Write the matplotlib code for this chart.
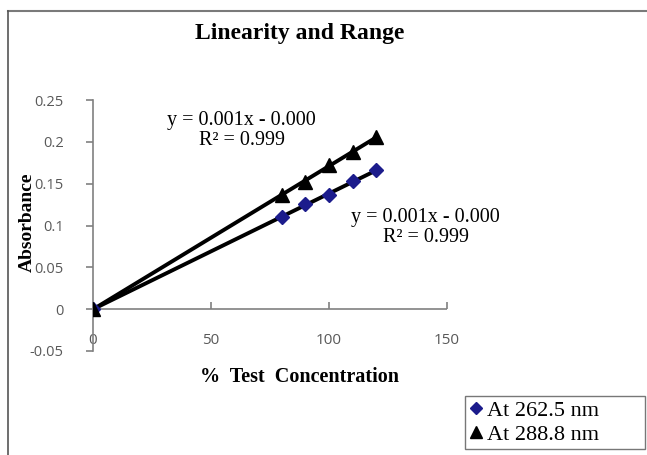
import numpy as np
import matplotlib
matplotlib.use("Agg")
import matplotlib.pyplot as plt
from matplotlib.lines import Line2D

# Data
conc = [0, 80, 90, 100, 110, 120]
abs_262 = [0, 0.110, 0.126, 0.136, 0.153, 0.166]
abs_288 = [0, 0.137, 0.152, 0.172, 0.188, 0.206]
series_labels = ["At 262.5 nm", "At 288.8 nm"]
x_ticks = [0, 50, 100, 150]
y_ticks = [-0.05, 0, 0.05, 0.1, 0.15, 0.2, 0.25]
y_ticklabels = ["-0.05", "0", "0.05", "0.1", "0.15", "0.2", "0.25"]
eq_text = "y = 0.001x - 0.000\nR² = 0.999"

W, H = 647, 455
fig = plt.figure(figsize=(W / 100, H / 100), dpi=100)
fig.patch.set_facecolor("white")

def fx(px):
    return px / W

def fy(py):
    return 1 - py / H

ax = fig.add_axes([fx(93), fy(351), fx(447) - fx(93), fy(100) - fy(351)])
ax.set_xlim(0, 150)
ax.set_ylim(-0.05, 0.25)
for s in ["top", "right", "bottom"]:
    ax.spines[s].set_visible(False)
ax.spines["left"].set_color("#808080")
ax.spines["left"].set_linewidth(1.2)
ax.axhline(0, color="#808080", lw=1.2, zorder=1)

ax.set_yticks(y_ticks)
ax.set_yticklabels(y_ticklabels)
ax.set_xticks(x_ticks)
ax.set_xticklabels([str(t) for t in x_ticks])
ax.tick_params(axis="y", direction="out", length=5, color="#808080", width=1.2,
               labelsize=10.5, labelcolor="#595959", pad=16)
ax.tick_params(axis="x", length=0, labelsize=11, labelcolor="#595959", pad=-13)
for lab in ax.get_xticklabels() + ax.get_yticklabels():
    lab.set_fontfamily("Open Sans")

# upward x tick marks at y = 0 (axis decoration)
sec = ax.secondary_xaxis(location=(0 + 0.05) / 0.30)
sec.set_xticks(x_ticks)
sec.set_xticklabels([])
sec.tick_params(direction="in", length=5, color="#808080", width=1.2)
sec.spines["bottom"].set_visible(False)
sec.spines["top"].set_visible(False)

# trendlines
xs = np.array([0, 120])
for yv in (abs_262, abs_288):
    m, b = np.polyfit(conc, yv, 1)
    ax.plot(xs, m * xs + b, color="black", lw=2.8, zorder=2, solid_capstyle="butt")

ax.plot(conc, abs_262, linestyle="none", marker="D", markersize=7,
        color="#1c1c8c", zorder=3)
ax.plot(conc, abs_288, linestyle="none", marker="^", markersize=9.5,
        color="black", zorder=3)

ax.text(63, 0.2135, eq_text, ha="center", va="center", fontsize=14.5,
        family="Liberation Serif", linespacing=1.1)
ax.text(141, 0.0975, eq_text, ha="center", va="center", fontsize=14.5,
        family="Liberation Serif", linespacing=1.1, clip_on=False)

fig.text(fx(300), fy(33), "Linearity and Range", ha="center", va="center",
         fontsize=17, fontweight="bold", family="Liberation Serif")
fig.text(fx(299), fy(377), "%  Test  Concentration", ha="center", va="center",
         fontsize=14.5, fontweight="bold", family="Liberation Serif")
fig.text(fx(27), fy(222), "Absorbance", ha="center", va="center", rotation=90,
         fontsize=14, fontweight="bold", family="Liberation Serif")

# figure border (top and left visible)
fig.add_artist(Line2D([fx(8), 1], [fy(11), fy(11)], color="#7a7a7a", lw=1.5))
fig.add_artist(Line2D([fx(8), fx(8)], [fy(11), 0], color="#555555", lw=1.2))

handles = [
    Line2D([], [], linestyle="none", marker="D", markersize=6.5, color="#1c1c8c"),
    Line2D([], [], linestyle="none", marker="^", markersize=9, color="black"),
]
leg = fig.legend(handles, series_labels, loc="lower left",
                 bbox_to_anchor=(fx(465), fy(449), fx(645) - fx(465), fy(392) - fy(449)),
                 mode="expand", borderaxespad=0, frameon=True, fancybox=False,
                 handlelength=0.6, handletextpad=0.2, borderpad=0.2, labelspacing=0.15,
                 prop={"family": "Liberation Serif", "size": 16})
leg.get_frame().set_edgecolor("#555555")
leg.get_frame().set_linewidth(1.0)

fig.savefig("out.png", dpi=100)
